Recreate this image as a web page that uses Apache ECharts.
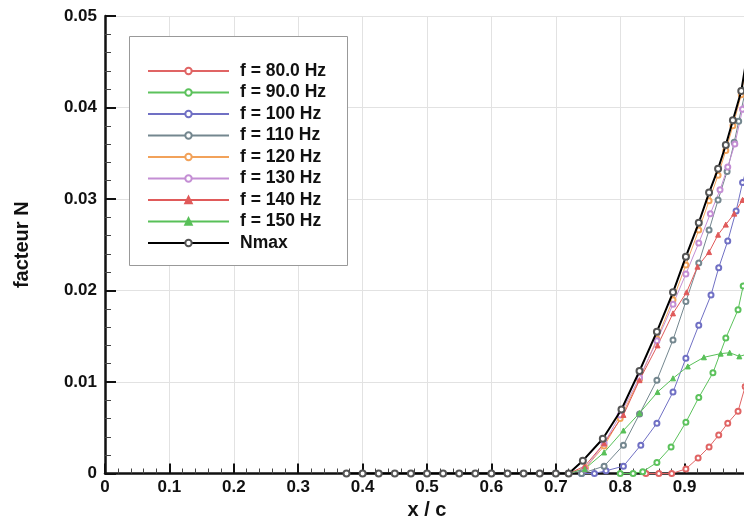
<!DOCTYPE html>
<html><head><meta charset="utf-8">
<script src="https://cdn.jsdelivr.net/npm/echarts@6/dist/echarts.min.js"></script>
<style>html,body{margin:0;padding:0;background:#fff}#c{width:744px;height:526px}</style>
</head><body><div id="c"></div>
<script>
// ---- data ----
var xNmax = [0.375,0.4,0.425,0.45,0.475,0.5,0.525,0.55,0.575,0.6,0.625,0.65,0.675,0.7,0.72,0.742,0.773,0.802,0.83,0.857,0.882,0.902,0.922,0.938,0.952,0.964,0.975,0.988,1.0];
var yNmax = [0,0,0,0,0,0,0,0,0,0,0,0,0,0,0,0.0014,0.0038,0.0070,0.0112,0.0155,0.0198,0.0237,0.0274,0.0307,0.0333,0.0359,0.0386,0.0418,0.0470];

var x80 = [0.84,0.86,0.88,0.902,0.921,0.938,0.953,0.967,0.983,0.994,1.0];
var y80 = [0,0,0,0.0005,0.0017,0.0029,0.0042,0.0055,0.0068,0.0095,0.0107];

var x90 = [0.80,0.82,0.835,0.857,0.879,0.902,0.922,0.944,0.964,0.983,0.991,1.0];
var y90 = [0,0,0.0002,0.0012,0.0029,0.0056,0.0083,0.0110,0.0148,0.0179,0.0205,0.0222];

var x100 = [0.74,0.76,0.778,0.805,0.832,0.857,0.882,0.902,0.922,0.941,0.953,0.967,0.98,0.99,1.0];
var y100 = [0,0,0.0003,0.0008,0.0031,0.0055,0.0089,0.0126,0.0162,0.0195,0.0225,0.0254,0.0287,0.0318,0.0342];

var x110 = [0.74,0.775,0.805,0.83,0.857,0.882,0.902,0.922,0.938,0.952,0.966,0.977,0.984,0.995,1.0];
var y110 = [0,0.0008,0.0031,0.0065,0.0102,0.0146,0.0188,0.0230,0.0266,0.0299,0.0330,0.0362,0.0385,0.0420,0.0436];

var x120 = [0.72,0.746,0.775,0.80,0.83,0.857,0.882,0.902,0.922,0.938,0.952,0.964,0.975,0.988,1.0];
var y120 = [0,0.0006,0.0030,0.0060,0.0103,0.0147,0.0190,0.0228,0.0266,0.0298,0.0326,0.0353,0.0380,0.0414,0.0465];

var x130 = [0.72,0.745,0.775,0.80,0.83,0.857,0.882,0.902,0.922,0.94,0.955,0.967,0.978,0.99,1.0];
var y130 = [0,0.0005,0.0033,0.0064,0.0105,0.0145,0.0185,0.0218,0.0252,0.0284,0.0310,0.0335,0.0360,0.0398,0.0425];

var x140 = [0.72,0.745,0.775,0.805,0.83,0.858,0.882,0.903,0.92,0.938,0.952,0.964,0.977,0.99,1.0];
var y140 = [0,0.0008,0.0033,0.0064,0.0102,0.0140,0.0175,0.0198,0.0226,0.0242,0.0261,0.0272,0.0284,0.0299,0.0308];

var x150 = [0.70,0.72,0.745,0.775,0.805,0.83,0.858,0.882,0.905,0.93,0.956,0.97,0.985,1.0];
var y150 = [0,0,0.0005,0.0023,0.0047,0.0066,0.0089,0.0104,0.0117,0.0127,0.0131,0.0132,0.0128,0.0131];

var names = ['f = 80.0 Hz','f = 90.0 Hz','f = 100 Hz','f = 110 Hz','f = 120 Hz','f = 130 Hz','f = 140 Hz','f = 150 Hz','Nmax'];
var colors = ['#e06464','#5cc25c','#7070c4','#74878f','#f2a25a','#c48ed4','#e05a5a','#58c058','#000000'];
var symbols = ['emptyCircle','emptyCircle','emptyCircle','emptyCircle','emptyCircle','emptyCircle','triangle','triangle','emptyCircle'];
var xTickLabels = ['0','0.1','0.2','0.3','0.4','0.5','0.6','0.7','0.8','0.9','1'];
var yTickLabels = ['0','0.01','0.02','0.03','0.04','0.05'];

// ---- build ----
function pairs(xs, ys){ return xs.map(function(x,i){ return [x, ys[i]]; }); }
var xs = [x80,x90,x100,x110,x120,x130,x140,x150,xNmax];
var ys = [y80,y90,y100,y110,y120,y130,y140,y150,yNmax];

var FONT = 'Liberation Sans';
var series = names.map(function(n,i){
  var isN = (n === 'Nmax');
  return {
    name: n, type: 'line', data: pairs(xs[i], ys[i]),
    symbol: symbols[i], symbolSize: isN ? 6 : 5,
    showAllSymbol: true,
    lineStyle: {color: colors[i], width: isN ? 2 : 1},
    itemStyle: {color: isN ? '#555' : colors[i], borderColor: isN ? '#222' : colors[i], borderWidth: 1},
    z: isN ? 5 : 3,
    animation: false, clip: true
  };
});

var chart = echarts.init(document.getElementById('c'), null, {renderer:'canvas'});
chart.setOption({
  animation: false,
  backgroundColor: '#fff',
  color: colors,
  grid: {left: 105, top: 16, width: 644, bottom: 52.5, show: false, containLabel: false, outerBoundsMode: 'none'},
  graphic: [{type:'rect', z: 2, shape:{x:129.5, y:36.5, width:218, height:229}, style:{fill:'#fff', stroke:'#999', lineWidth:1}}],
  legend: {
    orient: 'vertical', left: 147, top: 62, padding: 0,
    itemWidth: 81, itemHeight: 8, itemGap: 3.5,
    textStyle: {fontFamily: FONT, fontWeight:'bold', fontSize: 17.5, color:'#111', lineHeight: 18, padding:[0,0,0,6]},
    data: names, selectedMode: false, z: 4
  },
  xAxis: {
    type: 'value', min: 0, max: 1, interval: 0.1,
    name: 'x / c', nameLocation: 'middle', nameGap: 27,
    nameTextStyle: {fontFamily: FONT, fontWeight:'bold', fontSize: 20, color:'#111'},
    axisLine: {show: true, onZero: false, lineStyle: {color:'#111', width: 2.5}},
    axisTick: {show: true, inside: true, length: 10, lineStyle:{color:'#111', width: 2}},
    minorTick: {show: true, splitNumber: 5, length: 5, lineStyle:{color:'#444', width:1}},
    splitLine: {show: true, lineStyle: {color:'#e2e2e2', width: 1}},
    axisLabel: {margin: 5, fontFamily: FONT, fontWeight:'bold', fontSize: 17, color:'#111',
      formatter: function(v){ return xTickLabels[Math.round(v*10)]; }}
  },
  yAxis: {
    type: 'value', min: 0, max: 0.05, interval: 0.01,
    name: 'facteur N', nameLocation: 'middle', nameGap: 73, nameRotate: 90,
    nameTextStyle: {fontFamily: FONT, fontWeight:'bold', fontSize: 20, color:'#111'},
    axisLine: {show: true, onZero: false, lineStyle: {color:'#111', width: 2.5}},
    axisTick: {show: true, inside: true, length: 11, lineStyle:{color:'#111', width: 2}},
    minorTick: {show: true, splitNumber: 5, length: 6, lineStyle:{color:'#444', width:1}},
    splitLine: {show: true, lineStyle: {color:'#e2e2e2', width: 1}},
    axisLabel: {margin: 8, fontFamily: FONT, fontWeight:'bold', fontSize: 17, color:'#111',
      formatter: function(v){ return yTickLabels[Math.round(v*100)]; }}
  },
  series: series
});
</script></body></html>
